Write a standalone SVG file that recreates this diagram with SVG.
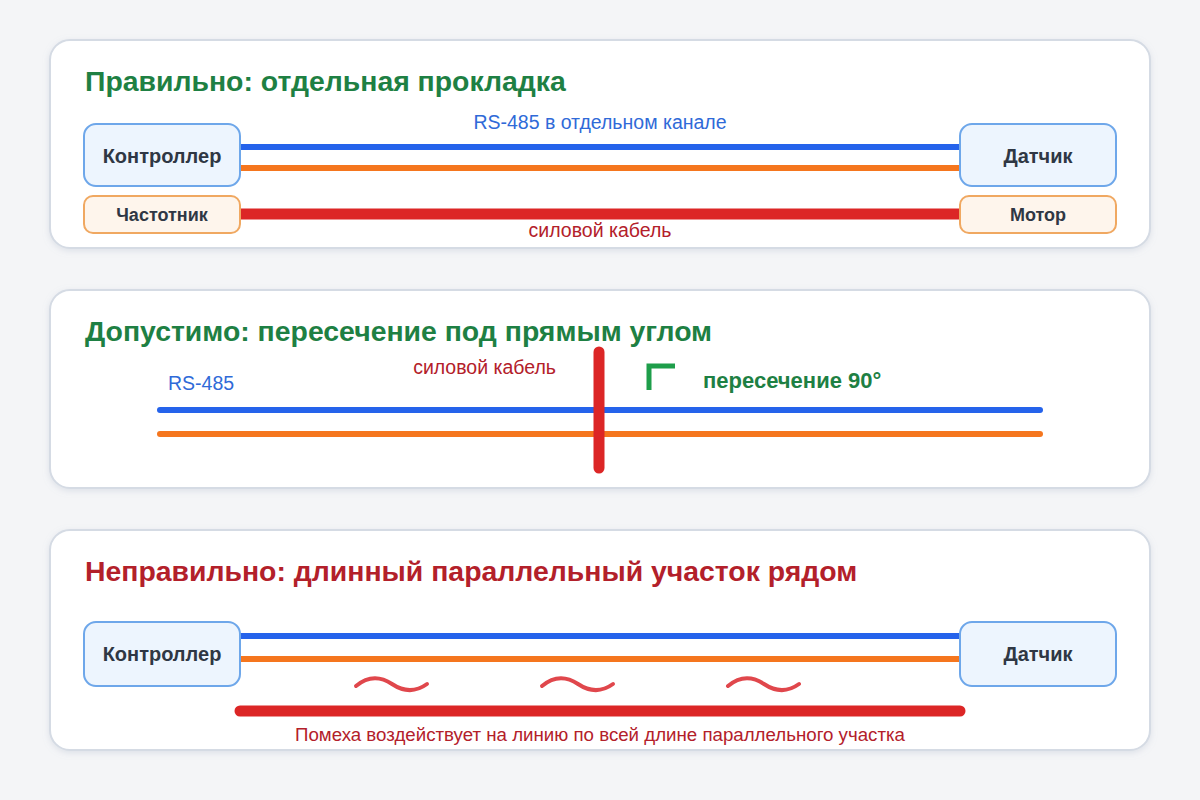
<svg xmlns="http://www.w3.org/2000/svg" width="1200" height="800" viewBox="0 0 1200 800">
<defs>
<filter id="sh" x="-5%" y="-10%" width="110%" height="130%">
<feDropShadow dx="0" dy="2" stdDeviation="3" flood-color="#94a3b8" flood-opacity="0.25"/>
</filter>
<style>
.panel{fill:#ffffff;stroke:#d5dbe4;stroke-width:2;filter:url(#sh)}
.title{font-family:"Liberation Sans",Arial,sans-serif;font-size:28.4px;font-weight:bold}
.green{fill:#1e8043}
.red{fill:#b3202a}
.nodeB{fill:#edf5fe;stroke:#6ea7ea;stroke-width:2}
.nodeO{fill:#fef5ec;stroke:#f0a861;stroke-width:2}
.nt{font-family:"Liberation Sans",Arial,sans-serif;font-size:20px;font-weight:bold;fill:#2f3744;text-anchor:middle}
.nts{font-family:"Liberation Sans",Arial,sans-serif;font-size:18px;font-weight:bold;fill:#2f3744;text-anchor:middle}
.lbl{font-family:"Liberation Sans",Arial,sans-serif;font-size:19.5px}
.blue{stroke:#2563eb;stroke-width:6;stroke-linecap:round;fill:none}
.orange{stroke:#f5761e;stroke-width:6;stroke-linecap:round;fill:none}
.power{stroke:#dc2626;stroke-width:11;stroke-linecap:round;fill:none}
.wave{stroke:#e0474c;stroke-width:4;stroke-linecap:round;fill:none}
</style>
</defs>
<rect width="1200" height="800" fill="#f4f5f7"/>

<g id="panel1">
<rect class="panel" x="50" y="40" width="1100" height="208" rx="20"/>
<text class="title green" x="85" y="91">Правильно: отдельная прокладка</text>
</g>
<g id="panel2">
<rect class="panel" x="50" y="290" width="1100" height="198" rx="20"/>
<text class="title green" x="85" y="341">Допустимо: пересечение под прямым углом</text>
</g>
<g id="panel3">
<rect class="panel" x="50" y="530" width="1100" height="220" rx="20"/>
<text class="title red" x="85" y="581">Неправильно: длинный параллельный участок рядом</text>
</g>

<g id="connectors">
<line class="blue" x1="240" y1="147" x2="960" y2="147"/>
<line class="orange" x1="240" y1="168" x2="960" y2="168"/>
<line class="power" x1="240" y1="214" x2="960" y2="214"/>

<line class="blue" x1="160" y1="410" x2="1040" y2="410"/>
<line class="orange" x1="160" y1="434" x2="1040" y2="434"/>
<line class="power" x1="599" y1="352" x2="599" y2="468"/>
<path d="M649 390 V366 H675" stroke="#1e9e4a" stroke-width="5" fill="none"/>

<line class="blue" x1="240" y1="636" x2="960" y2="636"/>
<line class="orange" x1="240" y1="659" x2="960" y2="659"/>
<line class="power" x1="240" y1="711" x2="960" y2="711"/>
<path class="wave" d="M356 686 C368 676 380 676 392 684 C404 692 416 692 427 684"/>
<path class="wave" d="M542 686 C554 676 566 676 578 684 C590 692 602 692 613 684"/>
<path class="wave" d="M728 686 C740 676 752 676 764 684 C776 692 788 692 799 684"/>
</g>

<g id="labels">
<text class="lbl" x="600" y="129" text-anchor="middle" fill="#2f6ad8">RS-485 в отдельном канале</text>
<text class="lbl" x="600" y="237" text-anchor="middle" fill="#b3202a">силовой кабель</text>
<text class="lbl" x="168" y="390" fill="#2f6ad8" font-size="20">RS-485</text>
<text class="lbl" x="556" y="374" text-anchor="end" fill="#b3202a" font-size="21.5">силовой кабель</text>
<text x="703" y="388" font-family="Liberation Sans, Arial, sans-serif" font-size="22" font-weight="bold" fill="#1e8043">пересечение 90°</text>
<text x="600" y="741" text-anchor="middle" font-family="Liberation Sans, Arial, sans-serif" font-size="18.7" fill="#b3202a">Помеха воздействует на линию по всей длине параллельного участка</text>
</g>

<g id="controller1">
<rect class="nodeB" x="84" y="124" width="156" height="62" rx="12"/>
<text class="nt" x="162" y="163">Контроллер</text>
</g>
<g id="sensor1">
<rect class="nodeB" x="960" y="124" width="156" height="62" rx="12"/>
<text class="nt" x="1038" y="163">Датчик</text>
</g>
<g id="vfd1">
<rect class="nodeO" x="84" y="196" width="156" height="37" rx="9"/>
<text class="nts" x="162" y="221">Частотник</text>
</g>
<g id="motor1">
<rect class="nodeO" x="960" y="196" width="156" height="37" rx="9"/>
<text class="nts" x="1038" y="221">Мотор</text>
</g>
<g id="controller3">
<rect class="nodeB" x="84" y="622" width="156" height="64" rx="12"/>
<text class="nt" x="162" y="661">Контроллер</text>
</g>
<g id="sensor3">
<rect class="nodeB" x="960" y="622" width="156" height="64" rx="12"/>
<text class="nt" x="1038" y="661">Датчик</text>
</g>
</svg>
